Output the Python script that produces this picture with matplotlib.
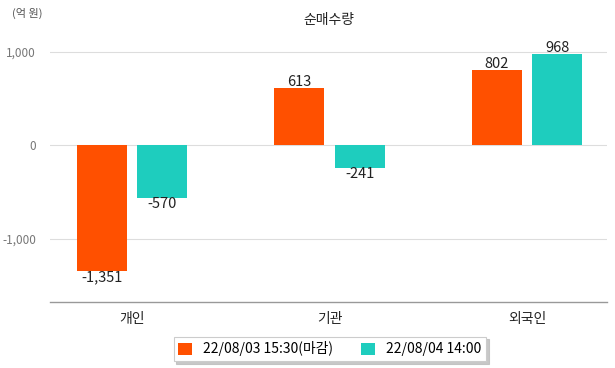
import numpy as np
import matplotlib as mpl
import matplotlib.pyplot as plt
from matplotlib.patches import Patch

mpl.rcParams['font.family'] = ['Noto Sans CJK KR', 'DejaVu Sans']

##########################################
categories = ['개인', '기관', '외국인']
series_names = ['22/08/03 15:30(마감)', '22/08/04 14:00']
vals_0803 = [-1351, 613, 802]
vals_0804 = [-570, -241, 968]
yticks = [-1000, 0, 1000]
ytick_labels = ['-1,000', '0', '1,000']
##########################################

colors = ['#FF5000', '#1ECDBE']
x = np.arange(len(categories))
w = 0.253
off = 0.153

fig = plt.figure(figsize=(6.15, 3.68), dpi=100)
ax = fig.add_axes([50/615, 66/368, 557/615, 272/368])

for vals, sgn, c in [(vals_0803, -1, colors[0]), (vals_0804, 1, colors[1])]:
    bars = ax.bar(x + sgn*off, vals, width=w, color=c, zorder=3)
    for xi, v in zip(x + sgn*off, vals):
        if v >= 0:
            ax.text(xi, v - 10, format(v, ','), ha='center', va='bottom', fontsize=10.5, color='#222222', zorder=4)
        else:
            ax.text(xi, v + 10, format(v, ','), ha='center', va='top', fontsize=10.5, color='#222222', zorder=4)

ax.set_xlim(-0.415, 2.405)
ax.set_ylim(-1679, 1230)
ax.set_yticks(yticks)
ax.set_yticklabels(ytick_labels)
ax.set_xticks(x)
ax.set_xticklabels(categories)
ax.grid(axis='y', color='#dddddd', linewidth=0.8, zorder=0)
for s in ['top', 'right', 'left']:
    ax.spines[s].set_visible(False)
ax.spines['bottom'].set_color('#999999')
ax.spines['bottom'].set_linewidth(1.0)
ax.tick_params(axis='y', length=0, labelsize=8.5, labelcolor='#777777', pad=10)
ax.tick_params(axis='x', length=0, labelsize=10, labelcolor='#222222', pad=7)

fig.text(329/615, 1 - 20/368, '순매수량', ha='center', va='center', fontsize=10, color='#222222')
fig.text(12/615, 1 - 13/368, '(억 원)', ha='left', va='center', fontsize=8, color='#555555')

handles = [Patch(facecolor=colors[0]), Patch(facecolor=colors[1])]
leg = fig.legend(handles, series_names, loc='center', bbox_to_anchor=(330/615, 1 - 349/368),
                 ncol=2, fontsize=10, frameon=True, fancybox=False,
                 shadow={'color': '#bbbbbb', 'alpha': 0.8, 'ox': 2, 'oy': -2},
                 handlelength=1.0, handleheight=1.0, columnspacing=2.0, handletextpad=0.8,
                 borderpad=0.35)
leg.get_frame().set_edgecolor('#cccccc')
leg.get_frame().set_linewidth(0.8)

fig.savefig('out.png', dpi=100)
